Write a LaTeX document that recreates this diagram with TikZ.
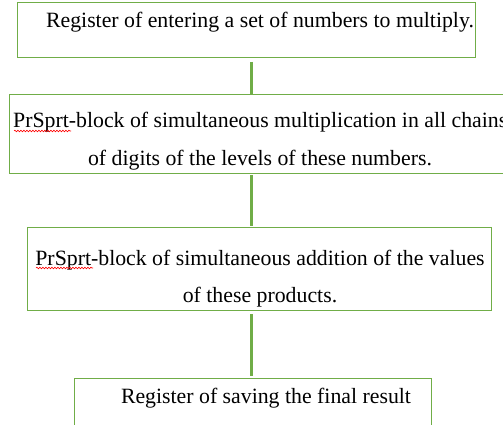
\documentclass[tikz,border=0pt]{standalone}
\usepackage{fontspec}
\setmainfont{Liberation Serif}
\usetikzlibrary{decorations.pathmorphing}
\definecolor{offgreen}{RGB}{112,173,71}
\tikzset{
  box/.style={draw=offgreen, line width=1pt},
  link/.style={draw=offgreen, line width=3pt},
  lbl/.style={anchor=base, inner sep=0pt, font=\fontsize{21.8}{26}\selectfont, text=black},
  lbll/.style={anchor=base west, inner sep=0pt, font=\fontsize{21.8}{26}\selectfont, text=black},
  spell/.style={draw=red, line width=0.6pt, decorate, decoration={snake, amplitude=0.8pt, segment length=3pt}}
}
\begin{document}
\begin{tikzpicture}[x=1pt,y=-1pt]
\path[use as bounding box] (0,0) rectangle (503,425);
\begin{scope}
\clip (0,0) rectangle (503,425);
\fill[white] (0,0) rectangle (503,425);
% boxes
\draw[box] (17,3) rectangle (475,58);
\draw[box] (9,95) rectangle (520,173);
\draw[box] (27,227) rectangle (491,310);
\draw[box] (74,378) rectangle (431,440);
% anchors for connectors
\coordinate (c1a) at (251,62);
\coordinate (c1b) at (251,94);
\coordinate (c2a) at (251,175);
\coordinate (c2b) at (251,226);
\coordinate (c3a) at (251,314);
\coordinate (c3b) at (251,376);
\draw[link] (c1a) -- (c1b);
\draw[link] (c2a) -- (c2b);
\draw[link] (c3a) -- (c3b);
% texts
\node[lbl] (t1) at (260,28) {Register of entering a set of numbers to multiply.};
\node[lbll] (t2a) at (13,128) {PrSprt-block of simultaneous multiplication in all chains};
\node[lbl] (t2b) at (260,165) {of digits of the levels of these numbers.};
\node[lbl] (t3a) at (260,265) {PrSprt-block of simultaneous addition of the values};
\node[lbl] (t3b) at (260,302) {of these products.};
\node[lbl] (t4) at (266,403) {Register of saving the final result};
% spell-check underlines
\coordinate (s1a) at (14,131);
\coordinate (s1b) at (71,131);
\coordinate (s2a) at (36,268);
\coordinate (s2b) at (93,268);
\draw[spell] (s1a) -- (s1b);
\draw[spell] (s2a) -- (s2b);
\end{scope}
\end{tikzpicture}
\end{document}
